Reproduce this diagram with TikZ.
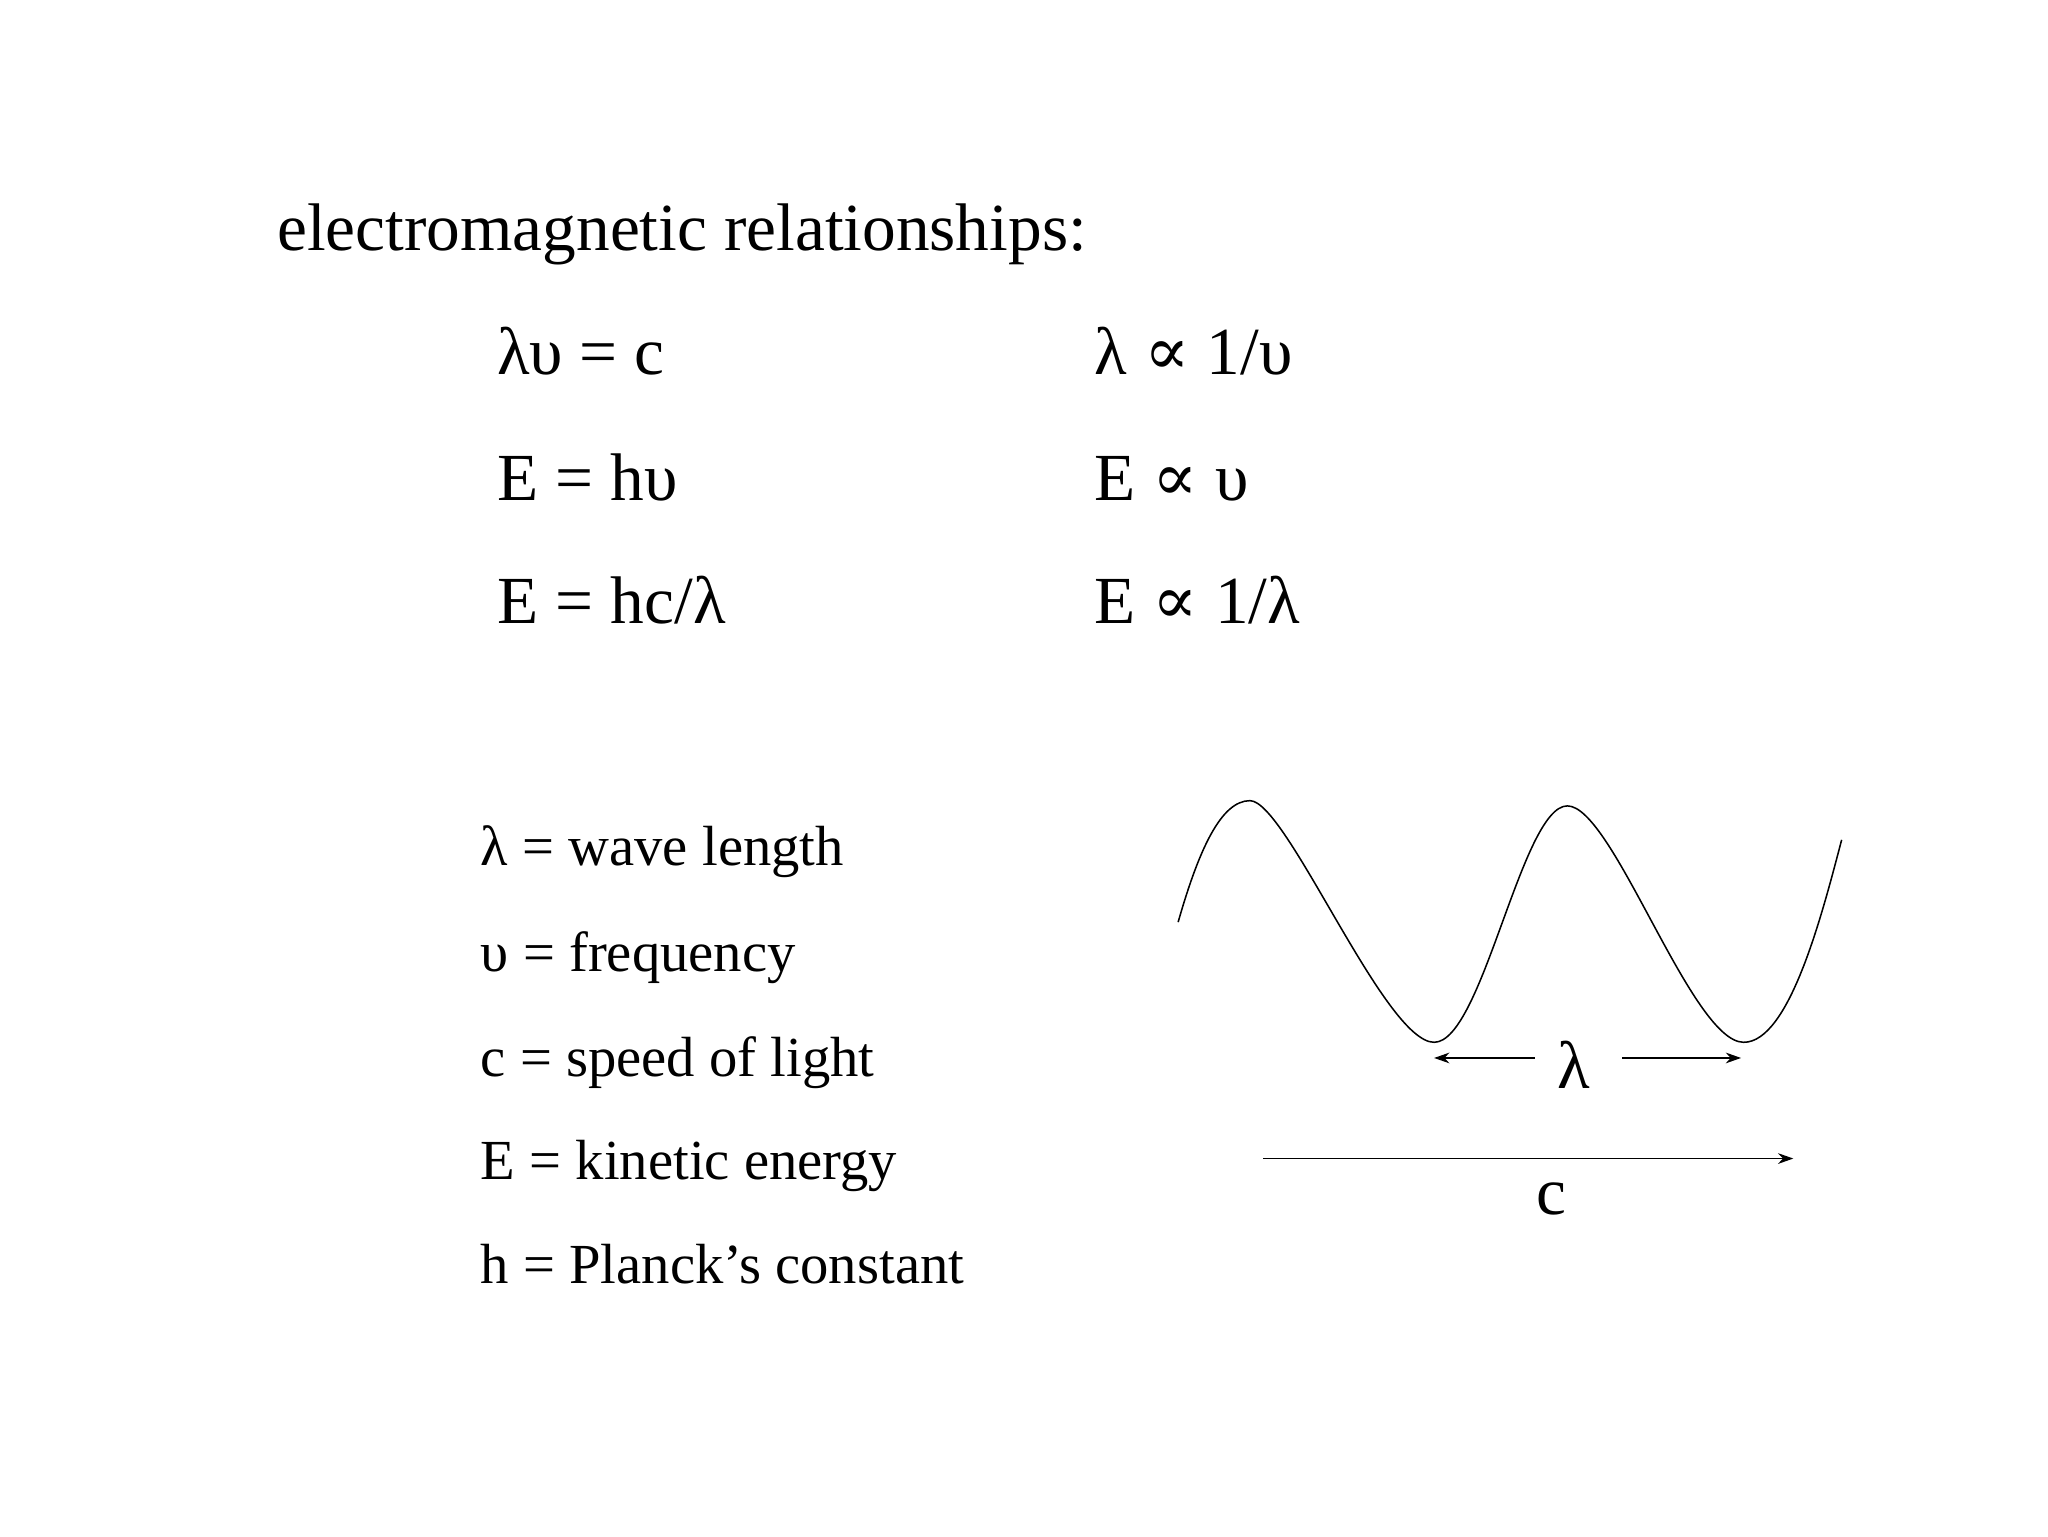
\documentclass[tikz,border=0pt]{standalone}
\usepackage{fontspec}
\setmainfont{Liberation Serif}
\newfontfamily\symfont{DejaVu Serif}
\newcommand{\prop}{{\symfont ∝}}
\usetikzlibrary{arrows.meta}
\begin{document}
\begin{tikzpicture}[x=0.03cm,y=-0.03cm,
  big/.style={anchor=base west,inner sep=0pt,font=\rmfamily\fontsize{44pt}{50pt}\selectfont},
  small/.style={anchor=base west,inner sep=0pt,font=\rmfamily\fontsize{37pt}{42pt}\selectfont},
  lbl/.style={inner sep=0pt,font=\rmfamily\fontsize{44pt}{50pt}\selectfont},
  arr/.style={-{Stealth[length=10pt,width=7pt]},line width=1pt}]
\useasboundingbox (0,0) rectangle (1568,1176);
\node[big] (title) at (212,192) {electromagnetic relationships:};
\node[big] (e1) at (381,287) {λυ = c};
\node[big] (e2) at (381,383) {E = hυ};
\node[big] (e3) at (381,477) {E = hc/λ};
\node[big] (p1) at (838,287) {λ \prop{} 1/υ};
\node[big] (p2) at (838,383) {E \prop{} υ};
\node[big] (p3) at (838,477) {E \prop{} 1/λ};
\node[small] (l1) at (368,663) {λ = wave length};
\node[small] (l2) at (368,744) {υ = frequency};
\node[small] (l3) at (368,824) {c = speed of light};
\node[small] (l4) at (368,903) {E = kinetic energy};
\node[small] (l5) at (368,983) {h = Planck’s constant};
\draw[line width=1pt] (902,706) .. controls (918,650) and (935,613) .. (957,613)
  .. controls (985,613) and (1060,798) .. (1098,798)
  .. controls (1135,798) and (1165,617) .. (1200,617)
  .. controls (1235,617) and (1295,798) .. (1335,798)
  .. controls (1370,798) and (1395,700) .. (1410,643);
\node[lbl] (lam) at (1205,815) {λ};
\coordinate (la) at (1175,810); \coordinate (lb) at (1098,810);
\coordinate (lc) at (1242,810); \coordinate (ld) at (1333,810);
\draw[arr] (la) -- (lb);
\draw[arr] (lc) -- (ld);
\coordinate (ca) at (967,887); \coordinate (cb) at (1373,887);
\draw[arr] (ca) -- (cb);
\node[lbl] (clab) at (1188,918) {c};
\end{tikzpicture}
\end{document}
